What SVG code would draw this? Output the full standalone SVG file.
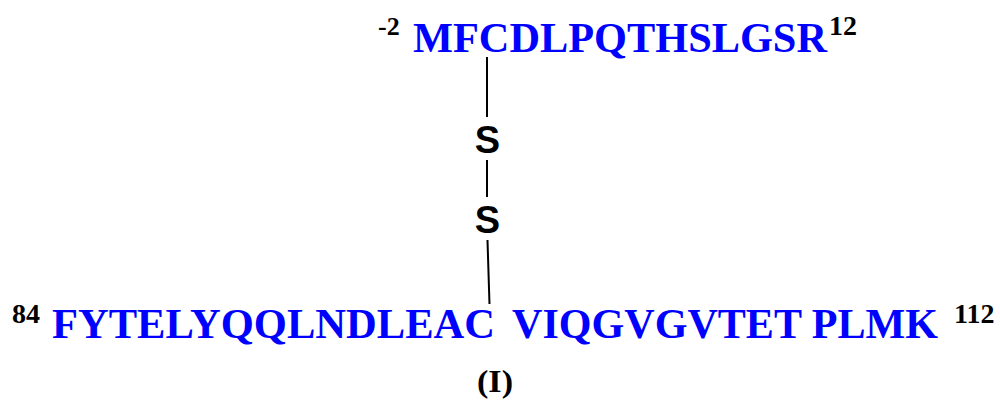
<svg xmlns="http://www.w3.org/2000/svg" width="1000" height="405" viewBox="0 0 1000 405">
<style>
.seq{font-family:"Liberation Serif",serif;font-weight:bold;font-size:42px;fill:#0000ff}
.num{font-family:"Liberation Serif",serif;font-weight:bold;fill:#000}
.s{font-family:"Liberation Sans",sans-serif;font-weight:bold;font-size:38px;fill:#000}
.bond{stroke:#000;stroke-width:2;fill:none}
</style>
<rect width="1000" height="405" fill="#fff"/>
<g id="chain-top">
<text class="num" x="378" y="35" font-size="26">-2</text>
<text class="seq" x="413" y="52" textLength="414" lengthAdjust="spacingAndGlyphs">MFCDLPQTHSLGSR</text>
<text class="num" x="829" y="35" font-size="28">12</text>
</g>
<g id="chain-bottom">
<text class="num" x="12" y="323" font-size="28">84</text>
<text class="seq" x="52" y="338" textLength="443" lengthAdjust="spacingAndGlyphs">FYTELYQQLNDLEAC</text>
<text class="seq" x="512" y="338" textLength="426" lengthAdjust="spacingAndGlyphs">VIQGVGVTET PLMK</text>
<text class="num" x="954" y="323" font-size="28">112</text>
</g>
<g id="sulfur1"><text class="s" x="487.5" y="153" text-anchor="middle">S</text></g>
<g id="sulfur2"><text class="s" x="487.5" y="233" text-anchor="middle">S</text></g>
<g id="connectors">
<line class="bond" x1="487" y1="57" x2="487" y2="117"/>
<line class="bond" x1="487" y1="160" x2="487" y2="197"/>
<line class="bond" x1="487.5" y1="240" x2="489.5" y2="304"/>
</g>
<g id="label"><text class="num" x="495" y="392" font-size="32" text-anchor="middle" textLength="36" lengthAdjust="spacingAndGlyphs">(I)</text></g>
</svg>
